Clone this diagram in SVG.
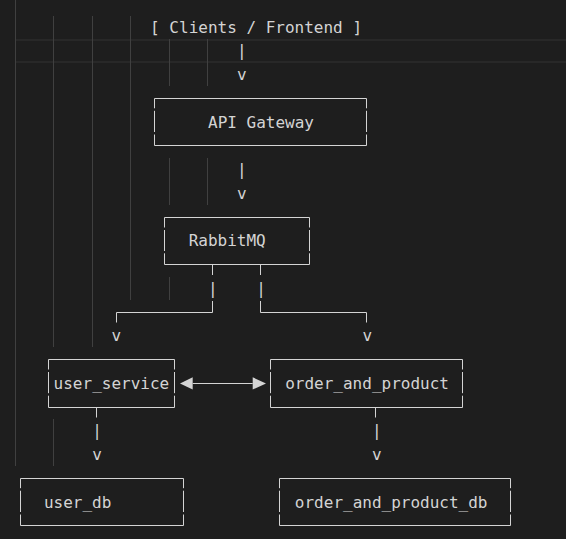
<svg xmlns="http://www.w3.org/2000/svg" width="566" height="539" viewBox="0 0 566 539">
<style>
text{font-family:"DejaVu Sans Mono","Liberation Mono",monospace;font-size:16px;fill:#d4d4d4}
.b{fill:none;stroke:#d4d4d4;stroke-width:1}
.g{fill:none;stroke:#404040;stroke-width:1}
.ah{fill:#d4d4d4}
</style>
<rect x="0" y="0" width="566" height="539" fill="#1e1e1e"/>
<g id="editor">
<rect x="16" y="39" width="550" height="2" fill="#282828"/>
<rect x="16" y="61" width="550" height="2" fill="#282828"/>
<path class="g" d="M15.5 0V466 M53.5 16V347 M53.5 419V466 M92.5 16V347 M130.5 16V300 M169.5 39V86 M169.5 158V205 M169.5 277V300 M207.5 39V86 M207.5 158V205"/>
</g>
<g id="clients">
<text x="150.1" y="32.7">[ Clients / Frontend ]</text>
</g>
<g id="api_gateway">
<path class="b" d="M154.5 98.5H366.5 M154.5 145.5H366.5 M154.5 98.5V108.3 M154.5 110.8V132 M154.5 134.5V145.5 M366.5 98.5V108.3 M366.5 110.8V132 M366.5 134.5V145.5"/>
<text x="208" y="127.7">API Gateway</text>
</g>
<g id="rabbitmq">
<path class="b" d="M164.5 217.5H309.5 M164.5 264.5H309.5 M164.5 217.5V227.5 M164.5 230V251 M164.5 253.3V264.5 M309.5 217.5V227.5 M309.5 230V251 M309.5 253.3V264.5"/>
<text x="188.7" y="246.45">RabbitMQ</text>
</g>
<g id="user_service">
<path class="b" d="M48.5 359.5H174.5 M48.5 407.5H174.5 M48.5 359.5V369.5 M48.5 372V393.2 M48.5 395.7V407.5 M174.5 359.5V369.5 M174.5 372V393.2 M174.5 395.7V407.5"/>
<text x="53.6" y="388.95">user_service</text>
</g>
<g id="order_and_product">
<path class="b" d="M270.5 359.5H462.5 M270.5 407.5H462.5 M270.5 359.5V369.5 M270.5 372V393.2 M270.5 395.7V407.5 M462.5 359.5V369.5 M462.5 372V393.2 M462.5 395.7V407.5"/>
<text x="285.2" y="388.95">order_and_product</text>
</g>
<g id="user_db">
<path class="b" d="M20.5 478.5H183.5 M20.5 525.5H183.5 M20.5 478.5V488.2 M20.5 490.7V512 M20.5 514.5V525.5 M183.5 478.5V488.2 M183.5 490.7V512 M183.5 514.5V525.5"/>
<text x="43.95" y="507.7">user_db</text>
</g>
<g id="order_and_product_db">
<path class="b" d="M279.5 478.5H510.5 M279.5 525.5H510.5 M279.5 478.5V488.2 M279.5 490.7V512 M279.5 514.5V525.5 M510.5 478.5V488.2 M510.5 490.7V512 M510.5 514.5V525.5"/>
<text x="294.85" y="507.7">order_and_product_db</text>
</g>
<g id="connectors">
<text x="236.95" y="56.45">|</text>
<text x="236.95" y="80.2">v</text>
<text x="236.95" y="175.2">|</text>
<text x="236.95" y="198.95">v</text>
<path class="b" d="M212.5 264.5V275 M260.5 264.5V275"/>
<text x="208" y="293.95">|</text>
<text x="256.25" y="293.95">|</text>
<path class="b" d="M212.5 301V312.5H116.5V322.5 M260.5 301V312.5H366.5V322.5"/>
<text x="111.5" y="341.45">v</text>
<text x="362.4" y="341.45">v</text>
<path class="b" d="M192.7 383.5H252.7"/>
<polygon class="ah" points="180,383.4 192.7,377.3 192.7,389.5"/>
<polygon class="ah" points="266,383.4 252.7,377.3 252.7,389.5"/>
<path class="b" d="M96.5 407.5V417.5 M375.5 407.5V417.5"/>
<text x="92.2" y="436.45">|</text>
<text x="372.05" y="436.45">|</text>
<text x="92.2" y="460.2">v</text>
<text x="372.05" y="460.2">v</text>
</g>
</svg>
